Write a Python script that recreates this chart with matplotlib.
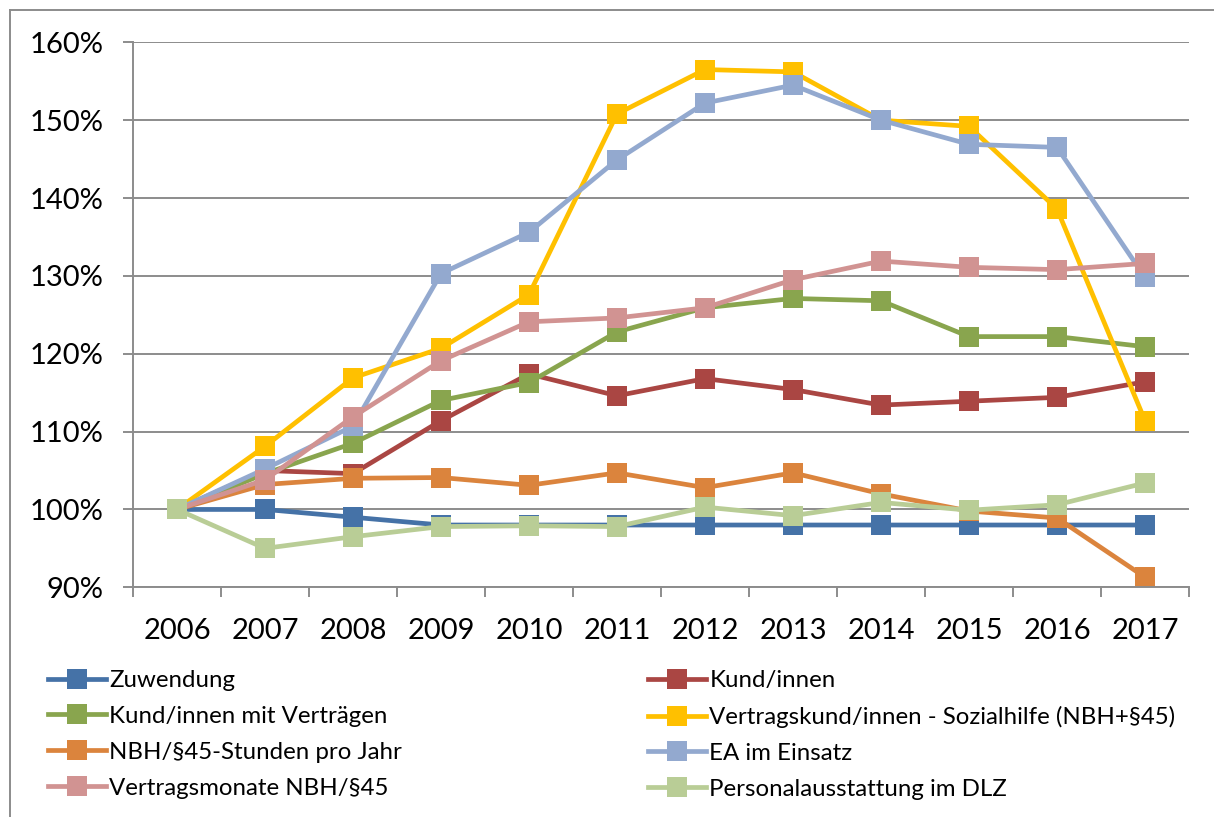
import matplotlib.pyplot as plt
import matplotlib.ticker as ticker
from matplotlib.lines import Line2D

plt.rcParams['font.family'] = ['Lato', 'DejaVu Sans']

years = ['2006', '2007', '2008', '2009', '2010', '2011',
         '2012', '2013', '2014', '2015', '2016', '2017']

# index values in percent (2006 = 100%)
zuwendung = [100, 100, 99.0, 98.0, 98.0, 98.0, 98.0, 98.0, 98.0, 98.0, 98.0, 98.0]
kund_innen = [100, 105.0, 104.6, 111.4, 117.4, 114.6, 116.8, 115.4, 113.4, 113.9, 114.4, 116.4]
kund_vertraege = [100, 104.6, 108.5, 114.0, 116.3, 122.8, 125.9, 127.1, 126.8, 122.2, 122.2, 120.9]
vertragskund_sozial = [100, 108.1, 116.9, 120.7, 127.6, 150.8, 156.5, 156.2, 150.0, 149.2, 138.6, 111.4]
nbh_stunden = [100, 103.2, 104.0, 104.1, 103.1, 104.7, 102.8, 104.7, 102.0, 99.8, 98.9, 91.3]
ea_einsatz = [100, 105.2, 110.7, 130.3, 135.6, 144.9, 152.2, 154.5, 150.0, 146.9, 146.5, 129.8]
vertragsmonate = [100, 103.8, 111.9, 119.1, 124.1, 124.6, 125.9, 129.5, 131.9, 131.1, 130.8, 131.6]
personal = [100, 95.0, 96.5, 97.8, 97.9, 97.8, 100.3, 99.2, 100.9, 99.9, 100.6, 103.4]

labels = ['Zuwendung', 'Kund/innen', 'Kund/innen mit Verträgen',
          'Vertragskund/innen - Sozialhilfe (NBH+§45)', 'NBH/§45-Stunden pro Jahr',
          'EA im Einsatz', 'Vertragsmonate NBH/§45', 'Personalausstattung im DLZ']
series = [zuwendung, kund_innen, kund_vertraege, vertragskund_sozial,
          nbh_stunden, ea_einsatz, vertragsmonate, personal]
colors = ['#4572A7', '#AA4643', '#89A54E', '#FFC000',
          '#DB843D', '#93A9CF', '#D19392', '#B9CD96']

fig = plt.figure(figsize=(12.14, 8.17), dpi=100)
ax = fig.add_axes([133 / 1214, 1 - 587.3 / 817, (1189 - 133) / 1214, (587.3 - 42.3) / 817])

x = list(range(len(years)))
handles = []
for vals, lab, col in zip(series, labels, colors):
    ln, = ax.plot(x, vals, color=col, lw=3.4, marker='s', markersize=14,
                  markeredgecolor=col, markeredgewidth=0, label=lab, solid_joinstyle='round')
    handles.append(ln)

ax.set_xlim(-0.5, 11.5)
ax.set_ylim(90, 160)
ax.yaxis.set_major_locator(ticker.MultipleLocator(10))
ax.yaxis.set_major_formatter(ticker.FuncFormatter(lambda v, p: '%d%%' % v))
ax.set_xticks(x)
ax.set_xticklabels(years)
ax.set_xticks([i - 0.5 for i in range(len(years) + 1)], minor=True)

ax.grid(axis='y', color='#8c8c8c', lw=1.4)
ax.set_axisbelow(True)
for s in ['top', 'right']:
    ax.spines[s].set_visible(False)
for s in ['left', 'bottom']:
    ax.spines[s].set_color('#8c8c8c')
    ax.spines[s].set_linewidth(1.4)

ax.tick_params(axis='y', length=7, width=1.4, color='#8c8c8c', pad=14, labelsize=21)
ax.tick_params(axis='x', which='major', length=0, pad=22, labelsize=21)
ax.tick_params(axis='x', which='minor', length=7, width=1.4, color='#8c8c8c')

# outer chart frame (left and top edges visible)
fig.add_artist(Line2D([10 / 1214, 10 / 1214], [0, 1 - 10 / 817], color='#8c8c8c', lw=1.4))
fig.add_artist(Line2D([10 / 1214, 1], [1 - 10 / 817, 1 - 10 / 817], color='#8c8c8c', lw=1.4))

left = [handles[i] for i in (0, 2, 4, 6)]
right = [handles[i] for i in (1, 3, 5, 7)]
leg_kw = dict(frameon=False, fontsize=17.3, handlelength=2.4, handletextpad=0.15,
              labelspacing=0.62, borderpad=0, borderaxespad=0, loc='upper left')
leg1 = fig.legend(handles=left, bbox_to_anchor=(48 / 1214, 1 - 670 / 817), **leg_kw)
leg2 = fig.legend(handles=right, bbox_to_anchor=(648 / 1214, 1 - 670 / 817), **leg_kw)
for leg in (leg1, leg2):
    for h in leg.legend_handles:
        h.set_markersize(14)

fig.savefig('out.png', dpi=100)
plt.close()
